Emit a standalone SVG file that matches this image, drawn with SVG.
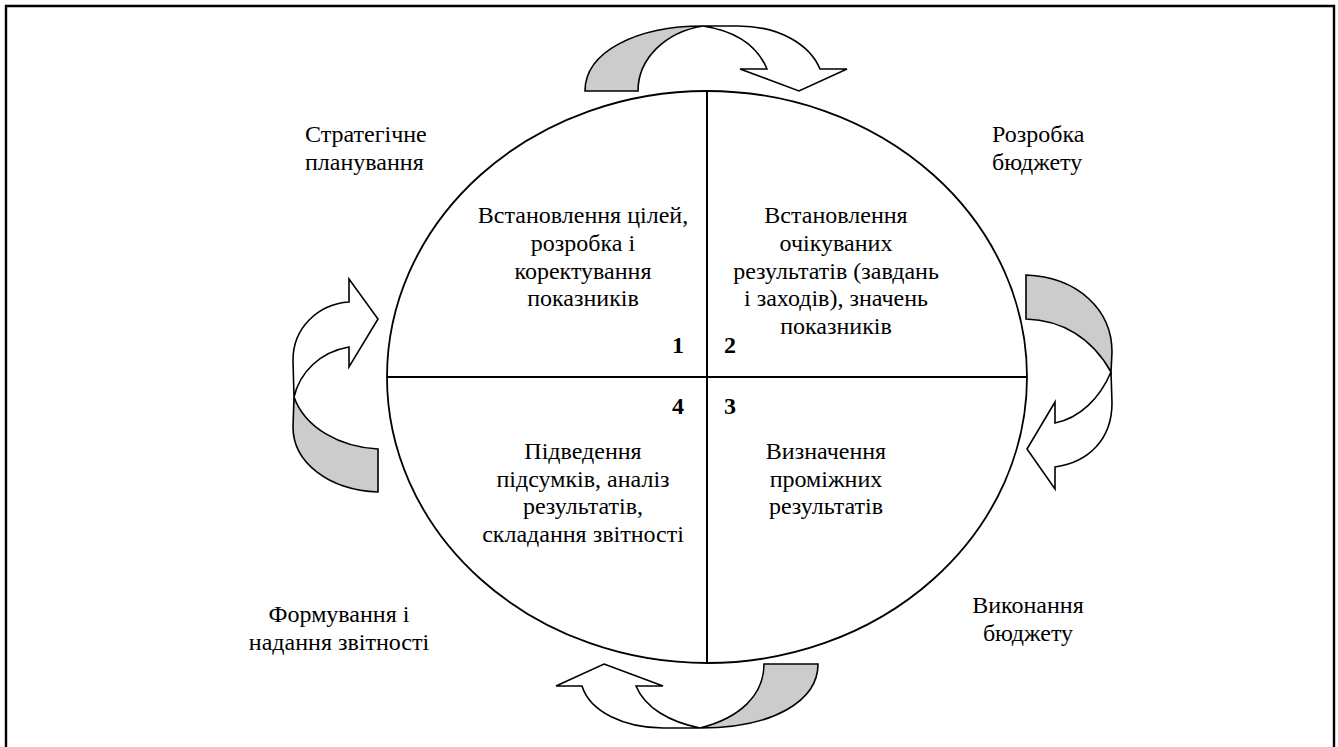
<svg xmlns="http://www.w3.org/2000/svg" width="1338" height="747" viewBox="0 0 1338 747">
<style>
.t text{font-size:24px;fill:#000}
.m{text-anchor:middle}
.n{font-weight:bold;text-anchor:middle}
.ln{stroke:#000;stroke-width:2;fill:none}
.w{fill:#fff;stroke:#000;stroke-width:1.6;stroke-linejoin:miter}
.g{fill:#cccccc;stroke:#000;stroke-width:1.6;stroke-linejoin:miter}
</style>
<rect width="1338" height="747" fill="#fff"/>
<path id="frame" d="M6,752 L6,6 L1334,6 L1334,752" fill="none" stroke="#000" stroke-width="2.4"/>

<g id="cycle">
<ellipse cx="707" cy="377" rx="320" ry="286" fill="#fff" stroke="#000" stroke-width="1.8"/>
<line class="ln" x1="387" y1="377" x2="1027" y2="377"/>
<line class="ln" x1="707" y1="91" x2="707" y2="663"/>
</g>

<g id="connectors">
<g id="arrow-top">
<path class="g" d="M585,91 C585,52 636,26 703,26 C666,32 638,58 638,91 Z"/>
<path class="w" d="M703,26 L738,26 C780,26 810,45 820,69 L847,69 L799,91 L740,69 L767,69 C757,45 735,31 703,26 Z"/>
</g>
<g id="arrow-right">
<path class="g" d="M1026,275 C1078,277 1112,310 1112,352 L1111,372 C1092,338 1062,320 1026,319 Z"/>
<path class="w" d="M1111,372 C1100,398 1080,418 1055,423 L1055,402 L1027,449 L1055,489 L1055,467 C1090,462 1112,438 1112,403 Z"/>
</g>
<g id="arrow-bottom">
<path class="w" d="M604,664 L663,686 L636,686 C645,708 670,722 700,728 L663,728 C625,728 590,712 582,686 L556,686 Z"/>
<path class="g" d="M700,728 C740,718 764,695 764,664 L818,664 C818,700 775,728 700,728 Z"/>
</g>
<g id="arrow-left">
<path class="w" d="M349,302 L349,279 L378,319 L349,367 L349,347 C320,352 300,372 294,397 L293,360 C293,328 318,304 349,302 Z"/>
<path class="g" d="M294,397 C305,428 340,447 378,449 L378,492 C328,490 293,462 293,427 Z"/>
</g>
</g>

<g class="t" font-family="'Liberation Serif', 'Times New Roman', serif">
<g id="q1">
<text class="m" x="583" y="223">Встановлення цілей,</text>
<text class="m" x="583" y="251">розробка і</text>
<text class="m" x="583" y="278.5">коректування</text>
<text class="m" x="583" y="306">показників</text>
<text class="n" x="678" y="353">1</text>
</g>
<g id="q2">
<text class="m" x="836" y="223">Встановлення</text>
<text class="m" x="836" y="251">очікуваних</text>
<text class="m" x="836" y="278.5">результатів (завдань</text>
<text class="m" x="836" y="306">і заходів), значень</text>
<text class="m" x="836" y="334">показників</text>
<text class="n" x="730" y="353">2</text>
</g>
<g id="q3">
<text class="m" x="826" y="459">Визначення</text>
<text class="m" x="826" y="486.6">проміжних</text>
<text class="m" x="826" y="514.4">результатів</text>
<text class="n" x="730" y="414">3</text>
</g>
<g id="q4">
<text class="m" x="583" y="459">Підведення</text>
<text class="m" x="583" y="486.6">підсумків, аналіз</text>
<text class="m" x="583" y="514.4">результатів,</text>
<text class="m" x="583" y="542">складання звітності</text>
<text class="n" x="678" y="414">4</text>
</g>

<g id="label-strategy">
<text x="305" y="142">Стратегічне</text>
<text x="305" y="170">планування</text>
</g>
<g id="label-budget-dev">
<text x="992" y="142">Розробка</text>
<text x="992" y="170">бюджету</text>
</g>
<g id="label-budget-exec">
<text class="m" x="1028" y="613">Виконання</text>
<text class="m" x="1028" y="640.5">бюджету</text>
</g>
<g id="label-reporting">
<text class="m" x="339" y="622">Формування і</text>
<text class="m" x="339" y="649.5">надання звітності</text>
</g>
</g>
</svg>
